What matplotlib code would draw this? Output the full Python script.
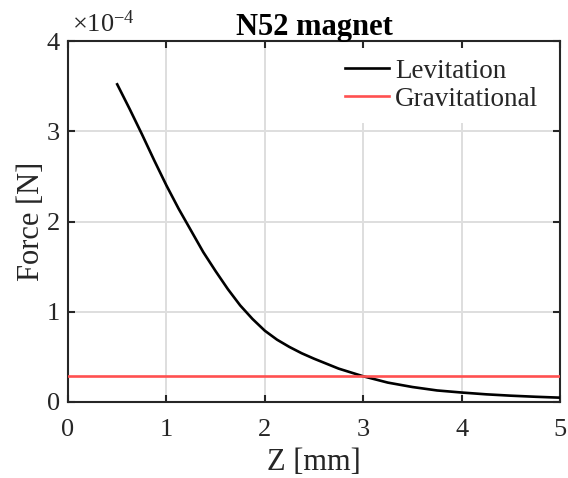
import matplotlib
matplotlib.use("Agg")
import matplotlib.pyplot as plt
from matplotlib.ticker import FuncFormatter

plt.rcParams['font.family'] = ['Liberation Serif', 'DejaVu Serif']
plt.rcParams['mathtext.fontset'] = 'custom'
plt.rcParams['mathtext.rm'] = 'Liberation Serif'
plt.rcParams['mathtext.it'] = 'Liberation Serif:italic'

# Data
z_mm = [0.5, 0.625, 0.75, 0.875, 1.0, 1.125, 1.25, 1.375, 1.5, 1.625, 1.75,
        1.875, 2.0, 2.125, 2.25, 2.375, 2.5, 2.75, 3.0, 3.25, 3.5, 3.75,
        4.0, 4.25, 4.5, 4.75, 5.0]
levitation_N = [3.52e-4, 3.25e-4, 2.97e-4, 2.68e-4, 2.40e-4, 2.14e-4, 1.90e-4,
                1.66e-4, 1.45e-4, 1.25e-4, 1.07e-4, 0.92e-4, 0.79e-4, 0.69e-4,
                0.61e-4, 0.54e-4, 0.48e-4, 0.37e-4, 0.285e-4, 0.215e-4,
                0.166e-4, 0.128e-4, 0.105e-4, 0.085e-4, 0.07e-4, 0.058e-4,
                0.048e-4]
gravitational_N = 0.285e-4
x_ticks = [0, 1, 2, 3, 4, 5]
y_ticks = [0, 1e-4, 2e-4, 3e-4, 4e-4]

dark = '#262626'
fig = plt.figure(figsize=(5.68, 4.78), dpi=100)
ax = fig.add_axes([68/568, 1-402/478, (560-68)/568, (402-41)/478])

ax.plot(z_mm, levitation_N, color='black', lw=1.9, label='Levitation', zorder=3)
ax.axhline(gravitational_N, color='#ff5050', lw=1.9, label='Gravitational', zorder=3)

ax.set_xlim(0, 5)
ax.set_ylim(0, 4e-4)
ax.set_xticks(x_ticks)
ax.set_yticks(y_ticks)
ax.yaxis.set_major_formatter(FuncFormatter(lambda v, p: f"{v/1e-4:g}"))
ax.grid(True, color='#dedede', lw=1.4)
ax.set_axisbelow(True)
for s in ax.spines.values():
    s.set_color(dark)
    s.set_linewidth(1.5)
ax.tick_params(direction='in', length=5, width=1.5, colors=dark, labelsize=19,
               top=True, right=True)
ax.tick_params(axis='x', pad=12)
ax.tick_params(axis='y', pad=6)

ax.set_xlabel('Z [mm]', fontsize=22, color=dark)
ax.set_ylabel('Force [N]', fontsize=22, color=dark)
ax.xaxis.set_label_coords(0.5, -0.128)
ax.yaxis.set_label_coords(-0.044, 0.5)
ax.set_title('N52 magnet', fontsize=22, fontweight='bold', pad=4.3)
ax.text(0.008, 1.012, r'$\times10^{-4}$', transform=ax.transAxes, fontsize=19,
        color=dark, ha='left', va='bottom')

leg = ax.legend(loc='upper right', bbox_to_anchor=(1 - 3/492, 1 + 1/361),
                frameon=True, fontsize=19.5, handlelength=1.66,
                handletextpad=0.2, labelspacing=0.1, borderaxespad=0.3,
                fancybox=False, edgecolor='none', framealpha=1)
for t in leg.get_texts():
    t.set_color(dark)

fig.savefig('out.png', dpi=100)
